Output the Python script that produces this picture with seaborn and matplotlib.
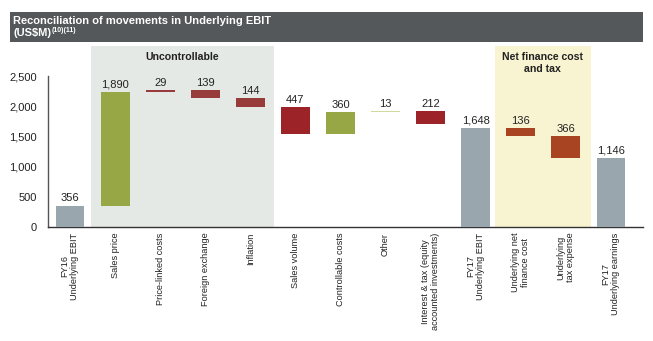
import matplotlib
matplotlib.use("Agg")
import matplotlib.pyplot as plt
import seaborn as sns
import pandas as pd
from matplotlib.patches import Rectangle

# ---------------- data ----------------
categories = [
    "FY16\nUnderlying EBIT", "Sales price", "Price-linked costs", "Foreign exchange",
    "Inflation", "Sales volume", "Controllable costs", "Other",
    "Interest & tax (equity\naccounted investments)", "FY17\nUnderlying EBIT",
    "Underlying net\nfinance cost", "Underlying\ntax expense", "FY17\nUnderlying earnings",
]
values = [356, 1890, 29, 139, 144, 447, 360, 13, 212, 1648, 136, 366, 1146]
bar_bottoms = [0, 356, 2246, 2136, 1992, 1545, 1545, 1905, 1706, 0, 1512, 1146, 0]
bar_kinds = ["total", "up", "down_m", "down_m", "down_m", "down", "up", "up_l",
             "down", "total", "fin", "fin", "total"]
y_ticks = [0, 500, 1000, 1500, 2000, 2500]
title_line1 = "Reconciliation of movements in Underlying EBIT"
title_line2 = "(US$M)"
title_sup = "(10)(11)"
group_labels = ["Uncontrollable", "Net finance cost\nand tax"]

kind_colors = {
    "total": "#9aa6ae", "up": "#97a745", "up_l": "#cddb9e",
    "down_m": "#973b3b", "down": "#9c2327", "fin": "#a94422",
}

df = pd.DataFrame({"category": categories, "value": values, "bottom": bar_bottoms})

# ---------------- figure ----------------
sns.set_theme(style="white")
plt.rcParams["font.family"] = ["Liberation Sans", "DejaVu Sans"]

fig = plt.figure(figsize=(6.53, 3.41), dpi=100)
ax = fig.add_axes([48 / 653, 114 / 341, 595 / 653, 181.3 / 341])

sns.barplot(data=df, x="category", y="value", bottom=df["bottom"].tolist(),
            color="#9aa6ae", width=0.64, saturation=1, ax=ax, zorder=3,
            linewidth=0)
bars = ax.containers[0]
for patch, kind in zip(bars.patches, bar_kinds):
    patch.set_facecolor(kind_colors[kind])
    patch.set_edgecolor(kind_colors[kind])

ax.set_xlim(-0.488, 12.71)
ax.set_ylim(0, 3007)

# shaded regions
ax.axvspan(0.466, 4.519, color="#e4e9e6", zorder=0, lw=0)
ax.axvspan(9.43, 11.55, color="#f8f3d0", zorder=0, lw=0)
ax.text(2.49, 2824, group_labels[0], ha="center", va="center",
        fontsize=7.6, fontweight="bold", color="#222222")
ax.text(10.49, 2720, group_labels[1], ha="center", va="center",
        fontsize=7.6, fontweight="bold", color="#222222", linespacing=1.15)

# value labels
for i, (v, b) in enumerate(zip(values, bar_bottoms)):
    ax.annotate(f"{v:,}", xy=(i, b + v), xytext=(0, 1.5), textcoords="offset points",
                ha="center", va="bottom", fontsize=8, color="#222222")

# axes styling
ax.set_xlabel("")
ax.set_ylabel("")
ax.set_yticks(y_ticks)
ax.set_yticklabels([f"{t:,}" for t in y_ticks], fontsize=8, color="#222222")
ax.tick_params(axis="y", length=0, pad=8)
ax.tick_params(axis="x", length=0, pad=4)
ax.set_xticks(range(len(categories)))
ax.set_xticklabels(categories, rotation=90, fontsize=6.6, color="#222222",
                   linespacing=1.1, ha="center", va="top")
for s in ["top", "right"]:
    ax.spines[s].set_visible(False)
ax.spines["left"].set_bounds(0, 2500)
ax.spines["left"].set_color("#555555")
ax.spines["left"].set_linewidth(1.0)
ax.spines["bottom"].set_color("#333333")
ax.spines["bottom"].set_linewidth(1.0)
ax.grid(False)
ax.set_facecolor("none")

# title bar
fig.patches.append(Rectangle((10 / 653, (341 - 42) / 341), 633 / 653, 30 / 341,
                             transform=fig.transFigure, facecolor="#54585b",
                             edgecolor="none", zorder=-1))
fam = ["Liberation Sans Narrow", "Liberation Sans", "DejaVu Sans"]
fig.text(13 / 653, (341 - 24.5) / 341, title_line1, family=fam, fontsize=8.0,
         fontweight="bold", color="white", ha="left", va="baseline", zorder=5)
t2 = fig.text(13 / 653, (341 - 36) / 341, title_line2, family=fam, fontsize=8.0,
              fontweight="bold", color="white", ha="left", va="baseline", zorder=5)
sup = matplotlib.text.Annotation(title_sup, xy=(1, 1), xycoords=t2, xytext=(0.5, 0.8),
                                 textcoords="offset points", ha="left", va="top",
                                 family=fam, fontsize=5, fontweight="bold", color="white",
                                 zorder=6)
fig.add_artist(sup)

fig.savefig("out.png", dpi=100, facecolor="white")
